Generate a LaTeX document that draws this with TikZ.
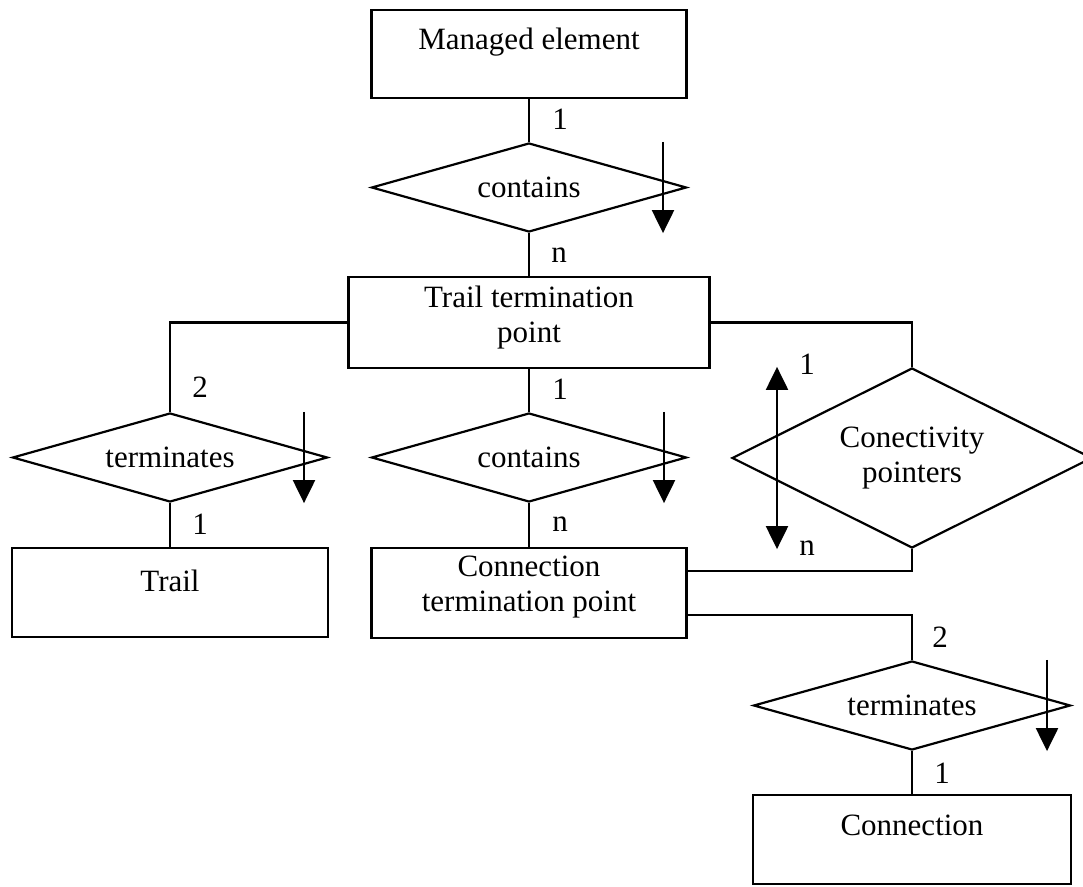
\documentclass[tikz,border=0pt]{standalone}
\usepackage{fontspec}
\setmainfont{Liberation Serif}
\usetikzlibrary{arrows.meta, positioning, shapes.geometric, calc}
\tikzset{
  every picture/.style={font=\fontsize{31}{35}\selectfont, line width=2.2pt, x=1pt, y=1pt},
  entity/.style={draw, rectangle, inner sep=0pt, minimum width=#1},
  entity/.default=315pt,
  relation/.style={draw, diamond, inner sep=0pt, minimum width=#1, minimum height=89pt},
  relation/.default=315pt,
  card/.style={inner sep=1pt},
  dirarrow/.style={-{Triangle[length=23pt, width=22pt]}},
}

\begin{document}
\begin{tikzpicture}
  \useasboundingbox (0,0) rectangle (1083,886);
  % entities
  \node[entity, minimum height=88pt, label={[yshift=12pt]center:Managed element}] (me) at (529,832) {};
  \node[entity=361pt, minimum height=91pt, label={[align=center, yshift=5pt]center:Trail termination\\point}] (ttp) at (529,563.5) {};
  \node[entity=316pt, minimum height=89pt, label={[yshift=12pt]center:Trail}] (trail) at (170,293.5) {};
  \node[entity, minimum height=90pt, label={[align=center, yshift=6pt]center:Connection\\termination point}] (ctp) at (529,293) {};
  \node[entity=318pt, minimum height=89pt, label={[yshift=14pt]center:Connection}] (conn) at (912,46.5) {};
  % relations
  \node[relation, label={center:contains}] (has1) at (529,698.5) {};
  \node[relation, label={center:terminates}] (term1) at (170,428.5) {};
  \node[relation, label={center:contains}] (has2) at (529,428.5) {};
  \node[relation=360pt, minimum height=180pt, label={[align=center]center:Conectivity\\pointers}] (ptr) at (912,428) {};
  \node[relation=317pt, label={center:terminates}] (term2) at (912,180.5) {};
  % links
  \draw (me.south) -- (has1.north);
  \draw (has1.south) -- (ttp.north);
  \draw (ttp.west) -| (term1.north);
  \draw (ttp.south) -- (has2.north);
  \draw (ttp.east) -| (ptr.north);
  \draw (term1.south) -- (trail.north);
  \draw (has2.south) -- (ctp.north);
  \draw (ptr.south) |- ([yshift=22pt]ctp.east);
  \draw ([yshift=-22pt]ctp.east) -| (term2.north);
  \draw (term2.south) -- (conn.north);
  % direction of reading
  \draw[dirarrow] ([xshift=134pt]has1.north) -- ([xshift=134pt]has1.south);
  \draw[dirarrow] ([xshift=134pt]term1.north) -- ([xshift=134pt]term1.south);
  \draw[dirarrow] ([xshift=135pt]has2.north) -- ([xshift=135pt]has2.south);
  \draw[{Triangle[length=23pt, width=22pt]}-{Triangle[length=23pt, width=22pt]}] ([xshift=-135pt]ptr.north) -- ([xshift=-135pt]ptr.south);
  \draw[dirarrow] ([xshift=135pt]term2.north) -- ([xshift=135pt]term2.south);
  % cardinalities
  \node[card] (me-n) at ([xshift=31pt, yshift=-20pt]me.south) {1};
  \node[card] (has1-n) at ([xshift=30pt, yshift=-22pt]has1.south) {n};
  \node[card] (term1-top) at ([xshift=30pt, yshift=25pt]term1.north) {2};
  \node[card] (ttp-n) at ([xshift=31pt, yshift=-20pt]ttp.south) {1};
  \node[card] (term1-bot) at ([xshift=30pt, yshift=-21pt]term1.south) {1};
  \node[card] (has2-n) at ([xshift=31pt, yshift=-21pt]has2.south) {n};
  \node[card] (ptr-top) at ([xshift=-105pt, yshift=3pt]ptr.north) {1};
  \node[card] (ptr-bot) at ([xshift=-105pt, yshift=1pt]ptr.south) {n};
  \node[card] (term2-top) at ([xshift=28pt, yshift=23pt]term2.north) {2};
  \node[card] (term2-bot) at ([xshift=30pt, yshift=-22pt]term2.south) {1};
\end{tikzpicture}
\end{document}
